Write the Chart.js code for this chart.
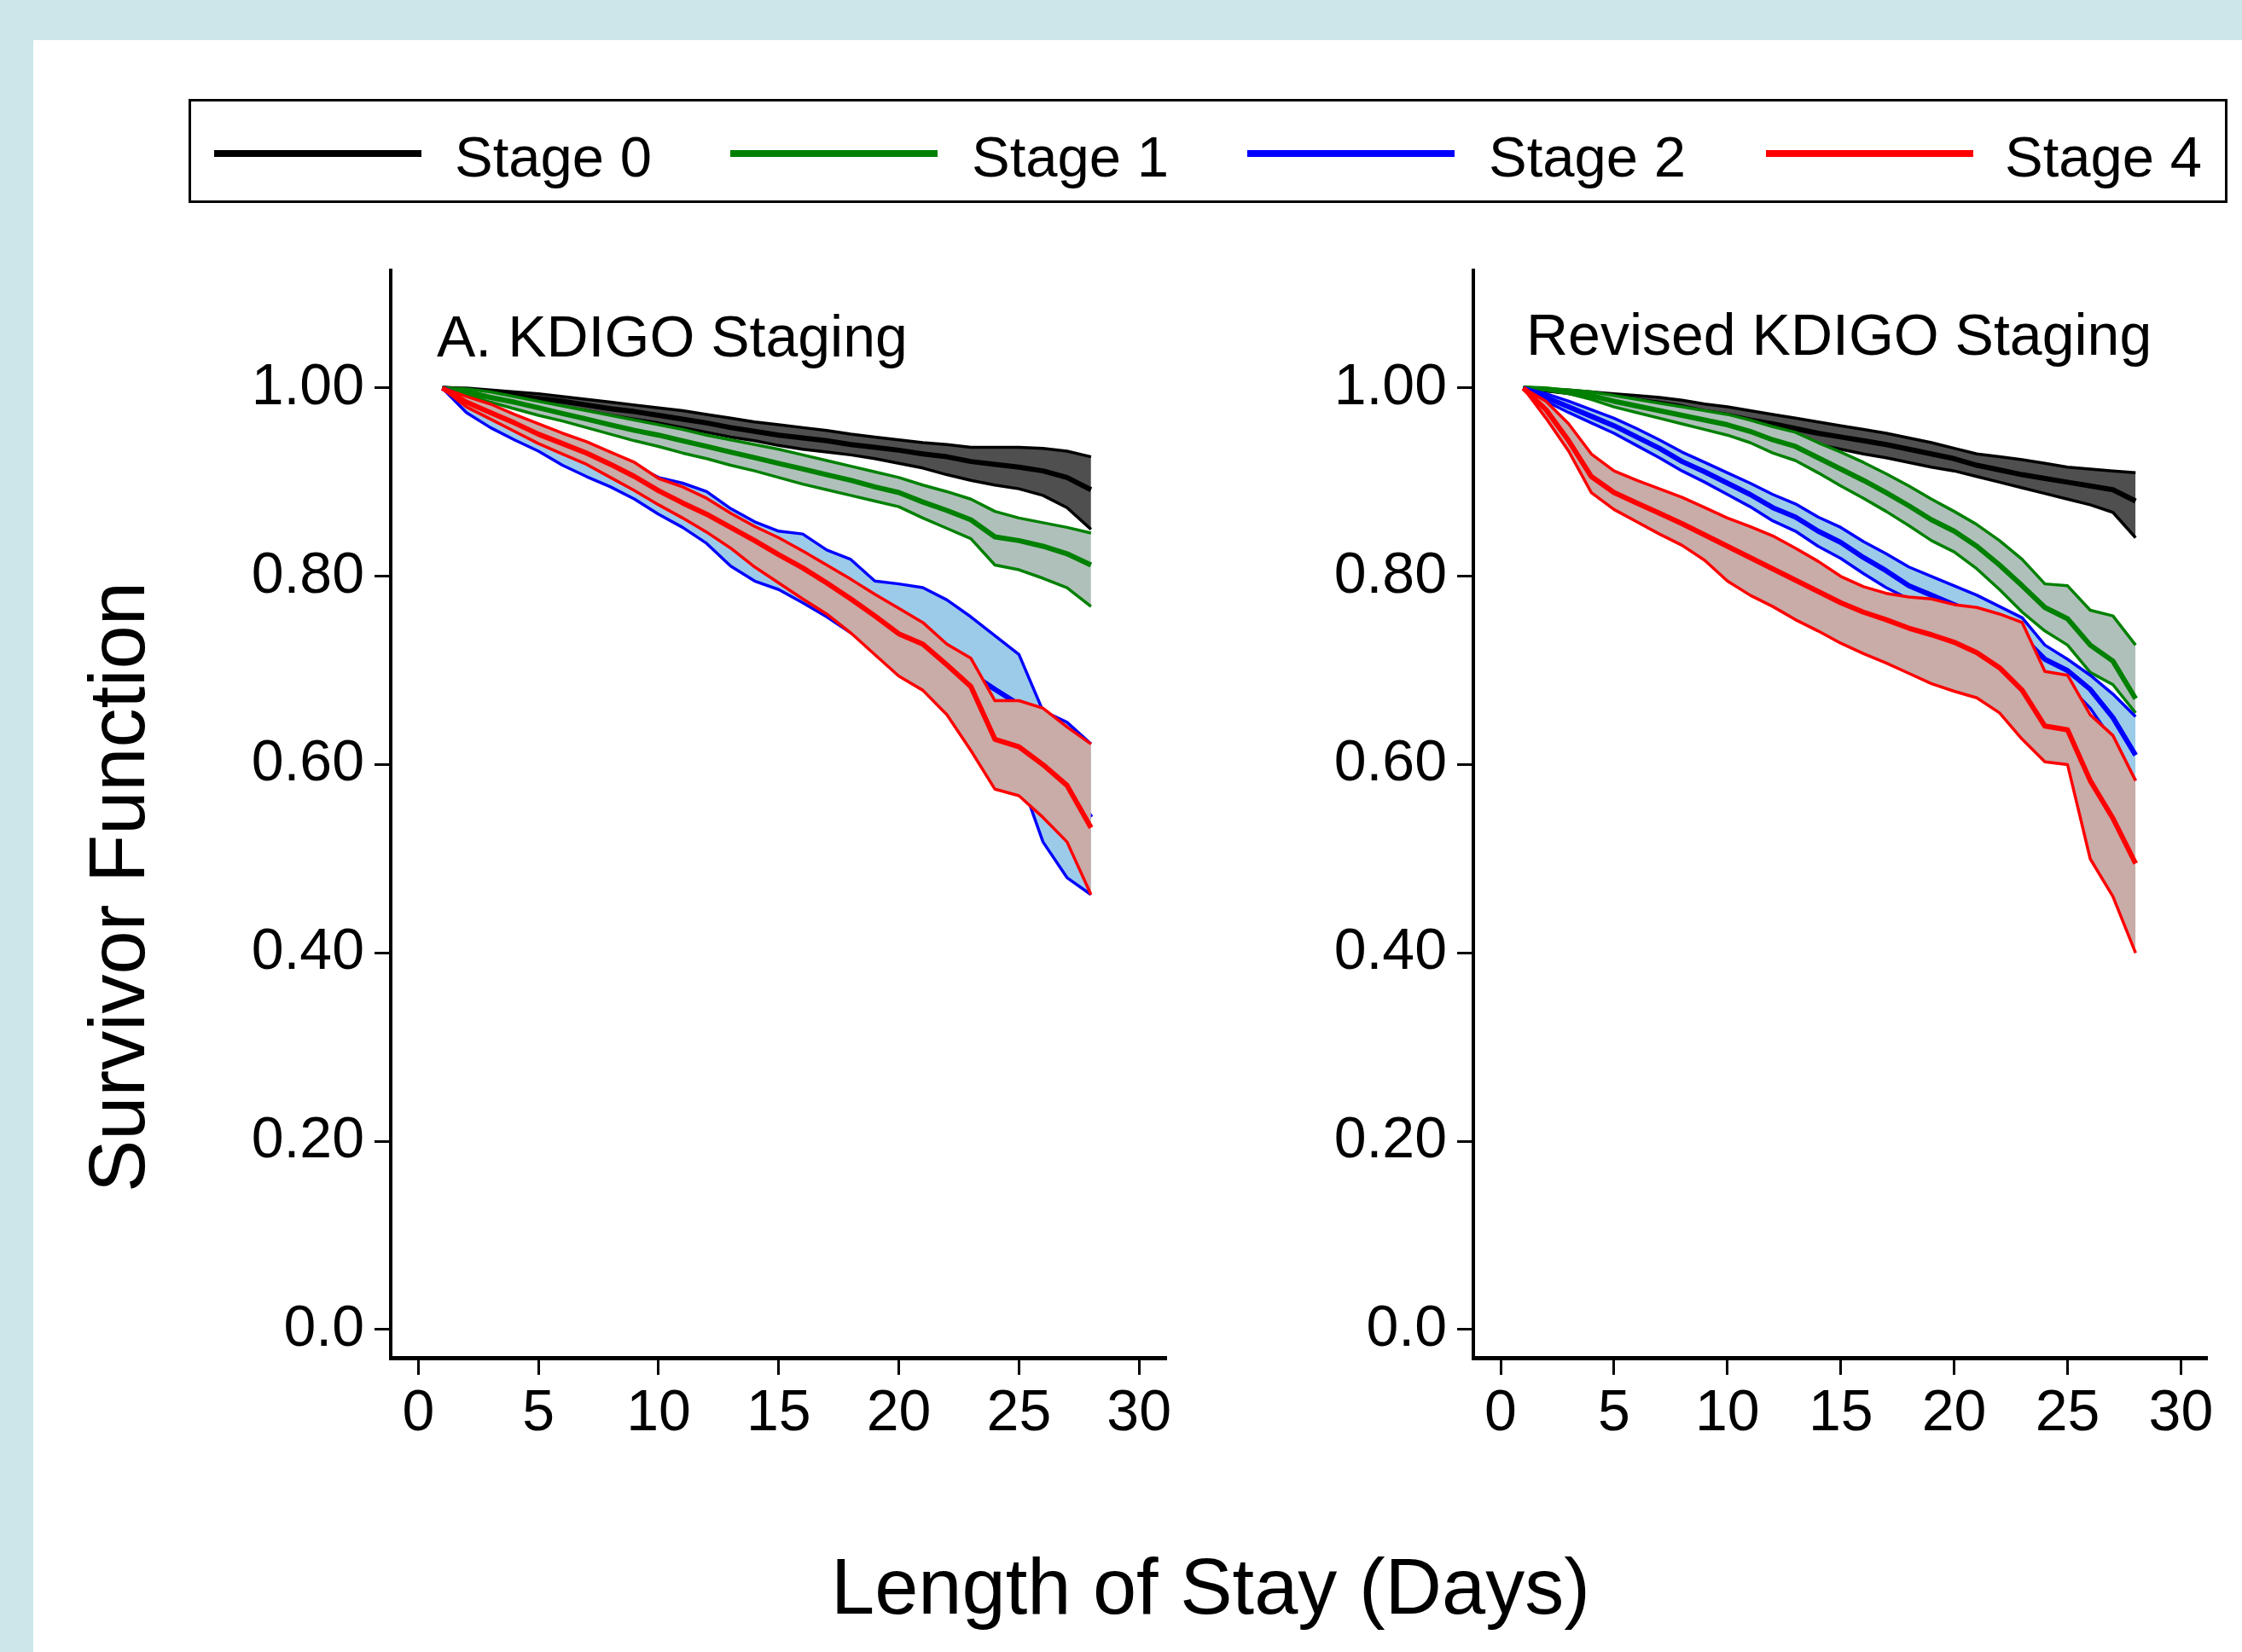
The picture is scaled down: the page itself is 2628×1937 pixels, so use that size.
<!DOCTYPE html>
<html>
<head>
<meta charset="utf-8">
<script src="https://cdn.jsdelivr.net/npm/chart.js@4.4.1/dist/chart.umd.min.js"></script>
<style>
html,body{margin:0;padding:0;}
body{width:2628px;height:1937px;background:#cde6ea;position:relative;overflow:hidden;font-family:'Liberation Sans',Arial,Helvetica,sans-serif;color:#000;}
#paper{position:absolute;left:39px;top:47px;width:2589px;height:1890px;background:#fff;}
.cwrap{position:absolute;top:0;height:1937px;}
.cwrap canvas{display:block;}
#legend{position:absolute;left:221px;top:116px;width:2390px;height:122px;box-sizing:border-box;border:3px solid #000;background:#fff;}
.lline{position:absolute;top:57px;width:243px;height:8px;}
.ltext{position:absolute;top:31px;font-size:67px;line-height:1;white-space:nowrap;}
.ptitle{position:absolute;font-size:68px;line-height:1;white-space:nowrap;}
.atitle{position:absolute;font-size:92px;line-height:1;white-space:nowrap;}
</style>
</head>
<body>
<div id="paper"></div>
<div id="legend"></div>
<div class="cwrap" style="left:0;width:1450px;"><canvas id="left" width="1450" height="1937"></canvas></div>
<div class="cwrap" style="left:1450px;width:1178px;"><canvas id="right" width="1178" height="1937"></canvas></div>
<div class="ptitle" id="titleA" style="left:512px;top:360px;"></div>
<div class="ptitle" id="titleB" style="left:1789px;top:358px;"></div>
<div class="atitle" id="xTitle" style="left:974px;top:1814px;"></div>
<div class="atitle" id="yTitle" style="left:91px;top:1398px;transform-origin:0 0;transform:rotate(-90deg);"></div>
<script>
// ---------- texts ----------
const stageNames = ['Stage 0', 'Stage 1', 'Stage 2', 'Stage 4'];
const stageColors = ['#000000', '#008000', '#0000ff', '#ff0000'];
const bandColors = ['#4f4f4f', '#afc0ba', '#9ccbe9', '#c9aba8'];
const panelTitles = ['A. KDIGO Staging', 'Revised KDIGO Staging'];
const xAxisTitle = 'Length of Stay (Days)';
const yAxisTitle = 'Survivor Function';

// ---------- ticks ----------
const xTickValues = [0, 5, 10, 15, 20, 25, 30];
const xTickLabels = ['0', '5', '10', '15', '20', '25', '30'];
const yTickValues = [0, 0.2, 0.4, 0.6, 0.8, 1.0];
const yTickLabels = ['0.0', '0.20', '0.40', '0.60', '0.80', '1.00'];

// ---------- time points (days) ----------
const days = [1, 2, 3, 4, 5, 6, 7, 8, 9, 10, 11, 12, 13, 14, 15, 16, 17, 18, 19, 20, 21, 22, 23, 24, 25, 26, 27, 28];

// ---------- Panel A: KDIGO staging ----------
const aStage0Est = [1.0, .998, .995, .992, .989, .986, .982, .978, .975, .971, .967, .963, .958, .954, .950, .947, .944, .940, .937, .934, .930, .927, .922, .919, .916, .912, .905, .892];
const aStage0Hi  = [1.0, 1.0, .998, .996, .994, .991, .988, .985, .982, .979, .976, .972, .968, .964, .961, .958, .955, .951, .948, .945, .942, .940, .937, .937, .937, .936, .933, .927];
const aStage0Lo  = [1.0, .996, .992, .988, .984, .980, .976, .971, .967, .963, .958, .953, .948, .944, .939, .935, .932, .929, .925, .920, .915, .908, .902, .897, .893, .886, .873, .850];

const aStage1Est = [1.0, .996, .990, .985, .979, .973, .967, .961, .955, .950, .944, .938, .932, .926, .920, .914, .908, .902, .895, .889, .879, .870, .860, .842, .838, .832, .824, .812];
const aStage1Hi  = [1.0, .999, .996, .991, .986, .981, .976, .971, .966, .961, .956, .950, .945, .940, .935, .929, .923, .917, .911, .905, .897, .890, .882, .869, .862, .857, .852, .846];
const aStage1Lo  = [1.0, .993, .985, .978, .971, .965, .958, .951, .944, .938, .931, .925, .918, .912, .905, .898, .892, .886, .880, .874, .862, .851, .840, .812, .807, .798, .788, .768];

const aStage2Est = [1.0, .988, .975, .960, .948, .934, .923, .912, .900, .886, .875, .862, .842, .827, .817, .808, .792, .778, .757, .746, .735, .716, .697, .680, .664, .600, .580, .544];
const aStage2Hi  = [1.0, .990, .981, .970, .960, .950, .940, .929, .918, .905, .899, .890, .872, .858, .848, .845, .828, .818, .795, .792, .788, .775, .757, .737, .717, .657, .645, .622];
const aStage2Lo  = [1.0, .974, .958, .945, .933, .918, .906, .895, .882, .866, .852, .835, .811, .795, .786, .772, .757, .740, .722, .703, .688, .662, .632, .602, .590, .518, .480, .462];

const aStage4Est = [1.0, .985, .974, .963, .951, .941, .931, .919, .906, .891, .878, .866, .852, .838, .823, .809, .793, .776, .758, .739, .728, .706, .683, .627, .619, .600, .578, .533];
const aStage4Hi  = [1.0, .991, .983, .972, .962, .952, .943, .932, .921, .904, .895, .883, .867, .853, .841, .827, .812, .797, .781, .766, .751, .728, .713, .668, .668, .660, .640, .622];
const aStage4Lo  = [1.0, .980, .967, .954, .941, .930, .919, .905, .891, .876, .862, .847, .830, .810, .793, .776, .760, .740, .717, .694, .679, .653, .615, .574, .567, .544, .518, .462];

// ---------- Panel B: Revised KDIGO staging ----------
const bStage0Est = [1.0, .998, .996, .993, .990, .987, .984, .980, .975, .971, .966, .962, .957, .952, .948, .944, .940, .935, .930, .925, .918, .913, .908, .904, .900, .896, .892, .880];
const bStage0Hi  = [1.0, .999, .998, .996, .994, .992, .990, .987, .983, .980, .976, .972, .968, .964, .960, .956, .952, .947, .942, .936, .930, .927, .924, .920, .916, .914, .912, .910];
const bStage0Lo  = [1.0, .997, .994, .990, .986, .982, .978, .973, .967, .962, .956, .951, .946, .940, .935, .930, .926, .921, .916, .912, .906, .900, .894, .888, .882, .876, .868, .841];

const bStage1Est = [1.0, .999, .996, .992, .986, .981, .976, .971, .966, .961, .954, .945, .938, .926, .914, .902, .889, .875, .860, .848, .832, .812, .790, .767, .755, .727, .710, .670];
const bStage1Hi  = [1.0, 1.0, .998, .996, .992, .988, .984, .980, .976, .972, .966, .959, .953, .942, .932, .921, .909, .896, .882, .869, .855, .838, .818, .792, .790, .764, .758, .727];
const bStage1Lo  = [1.0, .998, .994, .988, .980, .974, .968, .962, .956, .950, .942, .931, .923, .910, .896, .883, .869, .854, .838, .826, .808, .786, .762, .742, .727, .698, .685, .655];

const bStage2Est = [1.0, .990, .980, .970, .960, .948, .936, .922, .911, .899, .887, .873, .863, .848, .836, .820, .806, .790, .780, .770, .760, .748, .736, .712, .700, .680, .650, .610];
const bStage2Hi  = [1.0, .994, .986, .977, .968, .957, .945, .932, .921, .910, .899, .887, .877, .863, .852, .837, .824, .810, .800, .790, .780, .768, .756, .727, .712, .695, .675, .651];
const bStage2Lo  = [1.0, .986, .974, .963, .952, .939, .926, .912, .900, .887, .874, .859, .848, .832, .819, .803, .788, .776, .762, .752, .742, .730, .716, .695, .685, .660, .625, .583];

const bStage4Est = [1.0, .977, .944, .906, .889, .878, .867, .856, .844, .832, .820, .808, .796, .784, .772, .762, .754, .745, .738, .730, .719, .703, .679, .641, .637, .583, .543, .495];
const bStage4Hi  = [1.0, .986, .962, .930, .912, .902, .893, .884, .873, .862, .853, .843, .830, .816, .800, .789, .782, .778, .776, .770, .767, .760, .751, .699, .695, .653, .631, .583];
const bStage4Lo  = [1.0, .968, .933, .889, .871, .858, .845, .833, .817, .795, .780, .768, .754, .742, .729, .718, .708, .697, .686, .678, .671, .655, .627, .603, .600, .500, .460, .400];

// ---------- helpers ----------
const FONT = "'Liberation Sans', Arial, Helvetica, sans-serif";
Chart.defaults.font.family = FONT;

function pts(arr) { return days.map((d, i) => ({ x: d, y: arr[i] })); }

function stageDatasets(est, hi, lo, k) {
  const common = { stepped: false, pointRadius: 0, pointHoverRadius: 0, tension: 0,
                   borderJoinStyle: 'round', borderCapStyle: 'butt', borderColor: stageColors[k] };
  return [
    Object.assign({}, common, { label: stageNames[k], data: pts(est), borderWidth: 6, fill: false }),
    Object.assign({}, common, { label: stageNames[k] + ' upper', data: pts(hi), borderWidth: 3.5, fill: false }),
    Object.assign({}, common, { label: stageNames[k] + ' lower', data: pts(lo), borderWidth: 3.5,
                                fill: '-1', backgroundColor: bandColors[k] })
  ];
}

function makePanel(id, groups, xMin, xMax, pad) {
  // groups are given bottom-first; Chart.js draws the last dataset first, so reverse.
  let datasets = [];
  for (let g = groups.length - 1; g >= 0; g--) {
    const G = groups[g];
    datasets = datasets.concat(stageDatasets(G.est, G.hi, G.lo, G.k));
  }
  return new Chart(document.getElementById(id), {
    type: 'line',
    data: { datasets },
    options: {
      responsive: false, maintainAspectRatio: false, animation: false, devicePixelRatio: 1,
      events: [],
      layout: { padding: pad },
      plugins: { legend: { display: false }, tooltip: { enabled: false }, filler: { propagate: false } },
      scales: {
        x: {
          type: 'linear', min: xMin, max: xMax,
          afterBuildTicks: s => { s.ticks = xTickValues.map(v => ({ value: v })); },
          afterFit: s => { s.height = 150; },
          ticks: { autoSkip: false, maxRotation: 0, color: '#000', padding: 5,
                   font: { family: FONT, size: 68 },
                   callback: v => xTickLabels[xTickValues.indexOf(v)] },
          grid: { display: true, drawOnChartArea: false, drawTicks: true, tickLength: 20,
                  tickWidth: 3, tickColor: '#000', color: '#000' },
          border: { display: true, color: '#000', width: 5 }
        },
        y: {
          type: 'linear', min: -0.0299, max: 1.125,
          afterBuildTicks: s => { s.ticks = yTickValues.map(v => ({ value: v })); },
          afterFit: s => { s.width = 200; },
          ticks: { autoSkip: false, color: '#000', padding: 12,
                   font: { family: FONT, size: 68 },
                   callback: v => yTickLabels[yTickValues.indexOf(v)] },
          grid: { display: true, drawOnChartArea: false, drawTicks: true, tickLength: 19,
                  tickWidth: 3, tickColor: '#000', color: '#000' },
          border: { display: true, color: '#000', width: 4 }
        }
      }
    }
  });
}

makePanel('left', [
  { est: aStage0Est, hi: aStage0Hi, lo: aStage0Lo, k: 0 },
  { est: aStage1Est, hi: aStage1Hi, lo: aStage1Lo, k: 1 },
  { est: aStage2Est, hi: aStage2Hi, lo: aStage2Lo, k: 2 },
  { est: aStage4Est, hi: aStage4Hi, lo: aStage4Lo, k: 3 }
], -1.15, 31.13, { left: 258, right: 83, top: 317, bottom: 195 });

makePanel('right', [
  { est: bStage0Est, hi: bStage0Hi, lo: bStage0Lo, k: 0 },
  { est: bStage1Est, hi: bStage1Hi, lo: bStage1Lo, k: 1 },
  { est: bStage2Est, hi: bStage2Hi, lo: bStage2Lo, k: 2 },
  { est: bStage4Est, hi: bStage4Hi, lo: bStage4Lo, k: 3 }
], -1.204, 31.15, { left: 77, right: 41, top: 317, bottom: 195 });

// ---------- HTML texts / legend ----------
document.getElementById('titleA').textContent = panelTitles[0];
document.getElementById('titleB').textContent = panelTitles[1];
document.getElementById('xTitle').textContent = xAxisTitle;
document.getElementById('yTitle').textContent = yAxisTitle;

const legendLineX = [27, 632, 1238, 1846];
const legendTextX = [309, 915, 1521, 2126];
const legend = document.getElementById('legend');
stageNames.forEach((name, k) => {
  const ln = document.createElement('div');
  ln.className = 'lline';
  ln.style.left = legendLineX[k] + 'px';
  ln.style.background = stageColors[k];
  legend.appendChild(ln);
  const tx = document.createElement('div');
  tx.className = 'ltext';
  tx.style.left = legendTextX[k] + 'px';
  tx.textContent = name;
  legend.appendChild(tx);
});
</script>
</body>
</html>
